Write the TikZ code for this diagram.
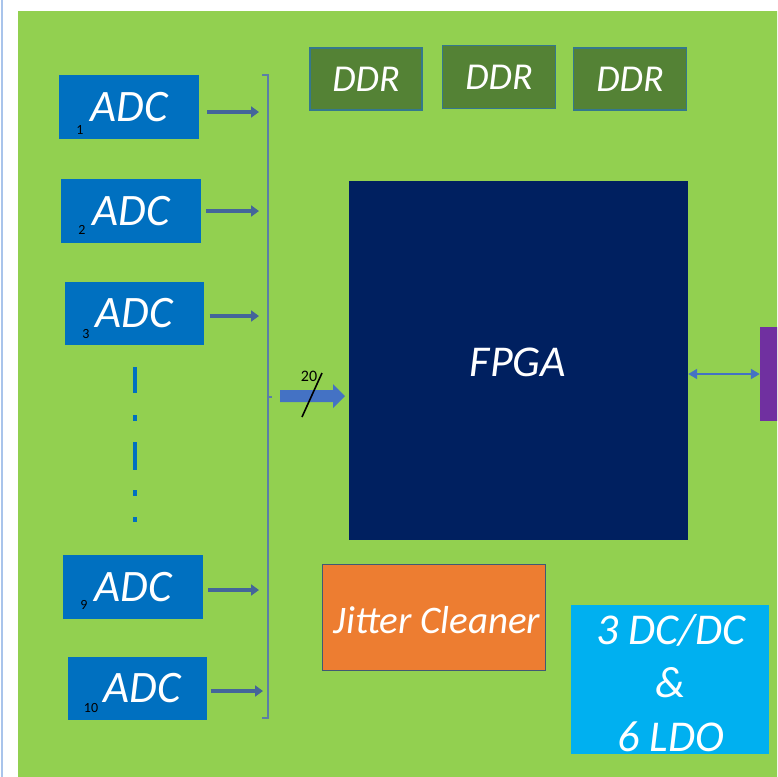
\documentclass[tikz,border=0pt]{standalone}
\usepackage{fontspec}
\setmainfont{Carlito}
\usetikzlibrary{arrows.meta}
\definecolor{bggreen}{RGB}{146,208,80}
\definecolor{adcblue}{RGB}{0,112,192}
\definecolor{navy}{RGB}{0,32,96}
\definecolor{ddrgreen}{RGB}{84,130,53}
\definecolor{ddrline}{RGB}{52,120,140}
\definecolor{arrblue}{RGB}{68,101,154}
\definecolor{brk}{RGB}{91,127,166}
\definecolor{fatblue}{RGB}{68,114,196}
\definecolor{purp}{RGB}{112,48,160}
\definecolor{orng}{RGB}{237,125,49}
\definecolor{cyanb}{RGB}{0,176,240}
\definecolor{edgeline}{RGB}{169,196,235}
\tikzset{
  adcbox/.style={rectangle, fill=adcblue, minimum width=140pt, minimum height=64pt, inner sep=0pt, text=white, font=\fontsize{45}{45}\selectfont\itshape},
  ddrbox/.style={rectangle, fill=ddrgreen, draw=ddrline, line width=1.5pt, minimum width=112pt, minimum height=62pt, inner sep=0pt, text=white, font=\fontsize{38}{38}\selectfont\itshape},
  numlab/.style={text=black, font=\fontsize{14}{14}\selectfont, inner sep=0pt},
  adcarr/.style={draw=arrblue, line width=3.5pt, -{Triangle[length=8pt,width=11pt]}},
  dbl/.style={draw=fatblue, line width=2pt, {Triangle[length=9pt,width=10pt]}-{Triangle[length=9pt,width=10pt]}},
  bigtxt/.style={text=white, font=\fontsize{44}{44}\selectfont\itshape, inner sep=0pt},
}
\begin{document}
\begin{tikzpicture}[x=1pt,y=-1pt]
\clip (0,0) rectangle (777,777);
\fill[white] (0,0) rectangle (777,777);
\draw[edgeline, line width=1.2pt] (2,0) -- (2,777);
\fill[bggreen] (18,11) rectangle (790,790);

% DDR
\node[ddrbox] (ddr1) at (366,79) {DDR};
\node[ddrbox, minimum width=113pt, minimum height=63pt] (ddr2) at (499,77) {DDR};
\node[ddrbox, minimum width=113pt] (ddr3) at (630,79) {DDR};

% ADCs
\node[adcbox] (adc1) at (129,107) {ADC};
\node[adcbox] (adc2) at (131,211) {ADC};
\node[adcbox, minimum width=139pt, minimum height=63pt] (adc3) at (134,313) {ADC};
\node[adcbox] (adc9) at (133,587) {ADC};
\node[adcbox, minimum width=139pt, minimum height=63pt, text width=88pt, align=right] (adc10) at (137,688) {ADC};

\node[numlab] (n1) at (80,130) {1};
\node[numlab] (n2) at (82,230) {2};
\node[numlab] (n3) at (86,334) {3};
\node[numlab] (n9) at (84,605) {9};
\node[numlab] (n10) at (91,708) {10};

% dotted vertical
\draw[adcblue, line width=4.5pt] (135,367) -- (135,393);
\draw[adcblue, line width=4.5pt] (135,415) -- (135,421);
\draw[adcblue, line width=4.5pt] (135,442) -- (135,470);
\draw[adcblue, line width=4.5pt] (135,490) -- (135,496);
\draw[adcblue, line width=4.5pt] (135,517) -- (135,522);

% bracket
\draw[brk, line width=2pt] (262,75) -- (268,75) -- (268,718) -- (262,718);
\draw[brk, line width=1.5pt] (268,397) -- (272,397);
\coordinate (b1) at (268,112);
\coordinate (b2) at (268,211);
\coordinate (b3) at (268,316);
\coordinate (b9) at (268,590);
\coordinate (b10) at (268,691);

\draw[adcarr, shorten <=8pt, shorten >=9pt] (adc1.east |- b1) -- (b1);
\draw[adcarr, shorten <=5pt, shorten >=9pt] (adc2.east |- b2) -- (b2);
\draw[adcarr, shorten <=6pt, shorten >=9pt] (adc3.east |- b3) -- (b3);
\draw[adcarr, shorten <=5pt, shorten >=9pt] (adc9.east |- b9) -- (b9);
\draw[adcarr, shorten <=4pt, shorten >=5pt] (adc10.east |- b10) -- (b10);

% FPGA
\node[rectangle, fill=navy, minimum width=339pt, minimum height=359pt, inner sep=0pt] (fpga) at (518.5,360.5) {};
\node[bigtxt] (fpgat) at (518,362) {FPGA};

% fat arrow into FPGA
\fill[fatblue] (280,390) -- (333,390) -- (333,384) -- (345,396) -- (333,408) -- (333,402) -- (280,402) -- cycle;
\draw[black, line width=1.6pt] (302,417) -- (322,373);
\node[text=black, font=\fontsize{16}{16}\selectfont, inner sep=0pt] (lab20) at (309,376) {20};

% purple and double arrow
\node[rectangle, fill=purp, minimum width=40pt, minimum height=94pt, inner sep=0pt] (pp) at (780,374) {};
\draw[dbl] (fpga.east |- pp.west) -- (pp.west);

% Jitter cleaner
\node[rectangle, fill=orng, draw=brk!70!black, line width=1pt, minimum width=223pt, minimum height=106pt, inner sep=0pt] (jit) at (433.5,617) {};
\node[text=white, font=\fontsize{39}{39}\selectfont\itshape, inner sep=0pt] (jitt) at (437,620) {Jitter Cleaner};

% DC/DC
\node[rectangle, fill=cyanb, minimum width=198pt, minimum height=149pt, inner sep=0pt] (dcdc) at (670,679.5) {};
\node[bigtxt] (d1) at (671,630) {3 DC/DC};
\node[bigtxt] (d2) at (671,683) {\&};
\node[bigtxt] (d3) at (671,737) {6 LDO};
\end{tikzpicture}
\end{document}
